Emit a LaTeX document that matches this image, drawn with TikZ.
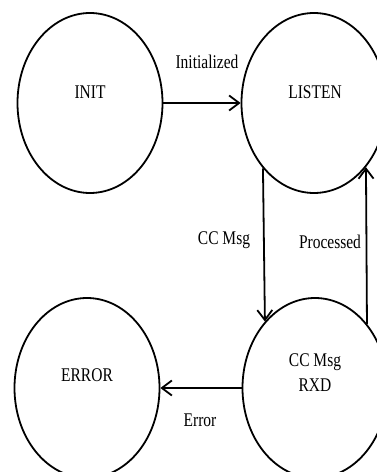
\documentclass[tikz,border=0pt]{standalone}
\usepackage{fontspec}
\setmainfont{Liberation Serif}
\usetikzlibrary{shapes.geometric,arrows.meta}

% text is set slightly tall and narrow
\newcommand{\talltext}[1]{\scalebox{1}[1.25]{#1}}

\tikzset{
  state/.style={draw, line width=1.8pt, ellipse, minimum width=145pt,
                minimum height=180pt, inner sep=0pt},
  txt/.style={inner sep=0pt, font=\fontsize{15.5}{18}\selectfont},
  trans/.style={line width=1.8pt, -{Straight Barb[length=10pt,width=15pt,line width=1.8pt]}}
}

\begin{document}
\begin{tikzpicture}[x=1pt,y=1pt]
  \useasboundingbox (0,0) rectangle (376,472);

  % states
  \node[state] (init)   at (90,369)  {};
  \node[state] (listen) at (314,369) {};
  \node[state] (error)  at (87,84)   {};
  \node[state] (rxd)    at (315,84)  {};

  % state names
  \node[txt] (tinit)   at (90,380)  {\talltext{INIT}};
  \node[txt] (tlisten) at (315,380) {\talltext{LISTEN}};
  \node[txt] (terror)  at (87,97)   {\talltext{ERROR}};
  \node[txt] (trxd1)   at (315,110) {\talltext{CC Msg}};
  \node[txt] (trxd2)   at (315,87)  {\talltext{RXD}};

  % transitions
  \draw[trans] (init.east) -- (listen.west);
  \draw[trans] (listen.232.8) -- (rxd.127.2);
  \draw[trans] (rxd.51) -- (listen.-51);
  \draw[trans] (rxd.west) -- (error.east);

  % transition labels
  \node[txt] (linit) at (207,410) {\talltext{Initialized}};
  \node[txt] (lmsg)  at (224,232) {\talltext{CC Msg}};
  \node[txt] (lproc) at (330,230) {\talltext{Processed}};
  \node[txt] (lerr)  at (200,52)  {\talltext{Error}};
\end{tikzpicture}
\end{document}
